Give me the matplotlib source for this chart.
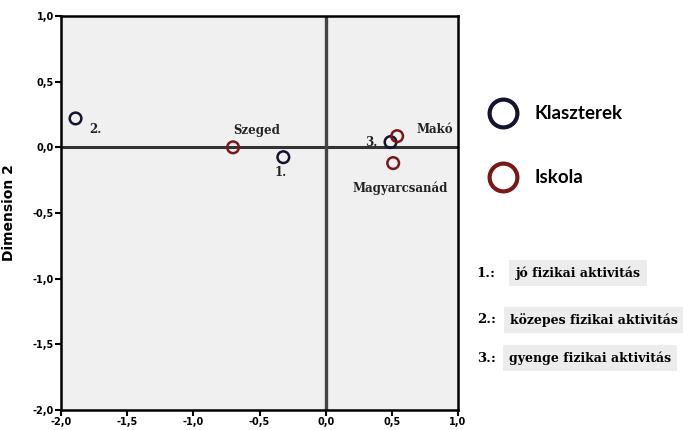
import numpy as np
import matplotlib.pyplot as plt
from matplotlib.lines import Line2D

# Cluster centroids (Klaszterek) and schools (Iskola) on dimensions 1 and 2
cluster_labels = ["1.", "2.", "3."]
cluster_x = [-0.32, -1.89, 0.49]
cluster_y = [-0.075, 0.22, 0.04]

school_labels = ["Szeged", "Makó", "Magyarcsanád"]
school_x = [-0.70, 0.54, 0.51]
school_y = [0.0, 0.085, -0.12]

# label offsets in points (dx, dy)
cluster_offsets = [(-2, -11), (14, -8), (-14, 0)]
school_offsets = [(17, 12), (27, 5), (5, -18)]

x_ticks = [-2.0, -1.5, -1.0, -0.5, 0.0, 0.5, 1.0]
y_ticks = [-2.0, -1.5, -1.0, -0.5, 0.0, 0.5, 1.0]

key_numbers = ["1.:", "2.:", "3.:"]
key_texts = ["jó fizikai aktivitás", "közepes fizikai aktivitás", "gyenge fizikai aktivitás"]

navy = "#14142e"
darkred = "#7a1818"
serif = "DejaVu Serif"

fig = plt.figure(figsize=(6.83, 4.30), dpi=100)
ax = fig.add_axes([0.0893, 0.0465, 0.5813, 0.9163])
ax.set_facecolor("#f0f0f0")

ax.axhline(0, color="#333333", lw=2.2, zorder=1)
ax.axvline(0, color="#444444", lw=2.4, zorder=1)

ax.scatter(cluster_x, cluster_y, s=70, facecolors="none", edgecolors=navy, linewidths=1.8, zorder=3)
ax.scatter(school_x, school_y, s=70, facecolors="none", edgecolors=darkred, linewidths=1.8, zorder=3)

for lab, x, y, off in zip(cluster_labels, cluster_x, cluster_y, cluster_offsets):
    ax.annotate(lab, (x, y), xytext=off, textcoords="offset points", ha="center", va="center",
                fontsize=8.5, fontweight="bold", family=serif, color="#222222")
for lab, x, y, off in zip(school_labels, school_x, school_y, school_offsets):
    ax.annotate(lab, (x, y), xytext=off, textcoords="offset points", ha="center", va="center",
                fontsize=8.5, fontweight="bold", family=serif, color="#222222")

ax.set_xlim(-2.0, 1.0)
ax.set_ylim(-2.0, 1.0)
ax.set_xticks(x_ticks)
ax.set_yticks(y_ticks)
ax.set_xticklabels([f"{v:.1f}".replace(".", ",") for v in x_ticks])
ax.set_yticklabels([f"{v:.1f}".replace(".", ",") for v in y_ticks])
ax.tick_params(labelsize=7, width=1.5, length=4, pad=1)
for lbl in ax.get_xticklabels() + ax.get_yticklabels():
    lbl.set_fontweight("bold")
for sp in ax.spines.values():
    sp.set_linewidth(1.8)
ax.set_ylabel("Dimension 2", fontsize=10, fontweight="bold", labelpad=12)

# legend on the right
legend_items = [("Klaszterek", navy, 0.737), ("Iskola", darkred, 0.588)]
for name, col, yy in legend_items:
    fig.add_artist(Line2D([0.737], [yy], marker="o", markersize=20, markerfacecolor="none",
                          markeredgecolor=col, markeredgewidth=3, transform=fig.transFigure))
    fig.text(0.782, yy, name, fontsize=13.5, fontweight="bold", family="Lato", va="center")

# cluster key
key_rows = [(0.365, 0.755), (0.256, 0.747), (0.167, 0.745)]
for num, txt, (yy, xx) in zip(key_numbers, key_texts, key_rows):
    fig.text(0.698, yy, num, fontsize=9.5, fontweight="bold", family=serif, va="center")
    fig.text(xx, yy, txt, fontsize=9, fontweight="bold", family=serif, va="center",
             bbox=dict(boxstyle="square,pad=0.5", facecolor="#ececec", edgecolor="none"))

fig.savefig("out.png", dpi=100)
